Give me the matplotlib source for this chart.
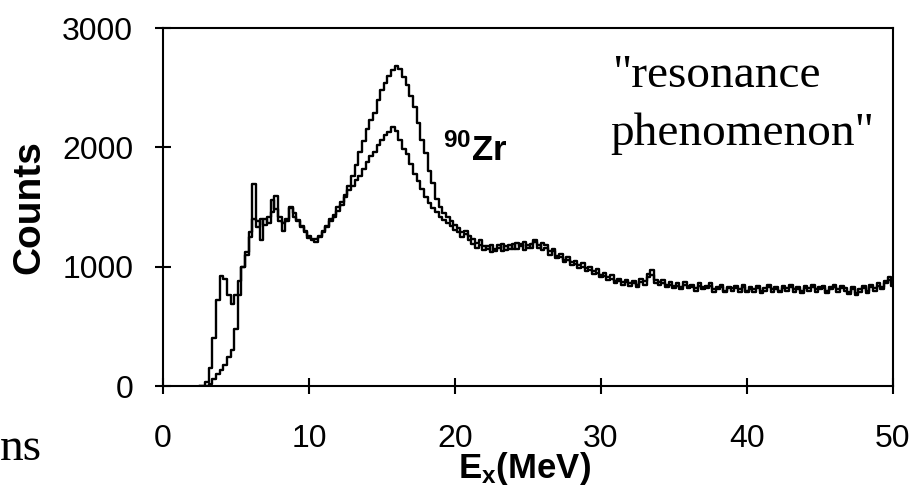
import numpy as np
import matplotlib
matplotlib.use("Agg")
import matplotlib.pyplot as plt

# excitation energy bins (MeV), 0.25 MeV wide, 2.5 .. 50
energy = np.arange(2.5, 50.001, 0.25)

# spectrum with the higher giant-resonance peak
counts_a = [
    0, 0,
    30, 150, 400, 720,
    920, 900, 760, 690,
    760, 880, 1000, 1120,
    1290, 1690, 1380, 1220,
    1400, 1370, 1460, 1590,
    1420, 1370, 1400, 1490,
    1450, 1380, 1330, 1300,
    1240, 1220, 1210, 1260,
    1290, 1340, 1400, 1430,
    1500, 1540, 1600, 1680,
    1760, 1850, 1960, 2050,
    2150, 2230, 2290, 2400,
    2480, 2540, 2600, 2650,
    2680, 2660, 2590, 2520,
    2430, 2340, 2200, 2060,
    1950, 1800, 1700, 1570,
    1500, 1450, 1420, 1380,
    1350,
    1320, 1290, 1300, 1260,
    1230, 1200, 1220, 1170,
    1150, 1180, 1130, 1160,
    1190, 1140, 1180, 1150,
    1200, 1170, 1210, 1160,
    1190, 1220, 1160, 1200,
    1180, 1130, 1150, 1090,
    1110, 1060, 1080, 1040,
    1050, 1010, 1030, 990,
    1000, 960, 980, 930,
    950, 910, 930, 880,
    900, 870, 890, 860,
    880, 850, 900, 880,
    940, 970, 890, 870,
    890, 850, 870, 840,
    860, 830, 870, 840,
    850, 820, 860, 830,
    840, 860, 810, 830,
    850, 800, 830, 820,
    840, 810, 850, 800,
    830, 810, 840, 800,
    820, 850, 810, 830,
    800, 840, 820, 850,
    810, 830, 800, 840,
    820, 850, 810, 830,
    840, 800, 830, 850,
    810, 840, 820, 790,
    830, 780, 810, 840,
    800, 850, 820, 860,
    830, 880, 910, 860,
]

# spectrum with the lower giant-resonance peak
counts_b = [
    0, 0,
    0, 20, 60, 100,
    130, 180, 240, 300,
    480, 760, 1000, 1100,
    1250, 1400, 1330, 1400,
    1350, 1420, 1560, 1480,
    1380, 1300, 1380, 1500,
    1420, 1390, 1340, 1290,
    1260, 1230, 1230, 1250,
    1300, 1330, 1380, 1420,
    1470, 1520, 1580, 1640,
    1680, 1730, 1760, 1820,
    1880, 1930, 1960, 2020,
    2060, 2100, 2130, 2170,
    2140, 2060, 1990, 1940,
    1860, 1780, 1720, 1650,
    1580, 1530, 1490, 1460,
    1420, 1390, 1370, 1340,
    1310,
    1290, 1250, 1270, 1220,
    1190, 1160, 1180, 1140,
    1170, 1120, 1150, 1180,
    1130, 1170, 1150, 1190,
    1150, 1190, 1140, 1180,
    1160, 1210, 1180, 1140,
    1160, 1100, 1130, 1070,
    1080, 1040, 1060, 1010,
    1020, 990, 1000, 960,
    970, 940, 950, 910,
    920, 890, 900, 860,
    880, 850, 870, 840,
    860, 830, 870, 850,
    910, 930, 860, 850,
    860, 830, 850, 820,
    840, 810, 850, 820,
    830, 800, 840, 810,
    820, 840, 790, 810,
    830, 790, 820, 800,
    820, 790, 830, 790,
    810, 790, 820, 780,
    800, 830, 790, 810,
    790, 820, 800, 830,
    790, 810, 780, 820,
    800, 830, 790, 810,
    820, 780, 810, 830,
    790, 820, 800, 770,
    810, 760, 790, 820,
    780, 830, 800, 840,
    810, 860, 890, 840,
]

x_ticks = [0, 10, 20, 30, 40, 50]
y_ticks = [0, 1000, 2000, 3000]

plt.rcParams["font.family"] = "Liberation Sans"
plt.rcParams["mathtext.fontset"] = "custom"
plt.rcParams["mathtext.rm"] = "Liberation Sans"
plt.rcParams["mathtext.bf"] = "Liberation Sans:bold"

fig = plt.figure(figsize=(9.14, 4.87), dpi=100)
ax = fig.add_axes([163 / 914, 101 / 487, 730 / 914, 358 / 487])

ax.plot(energy, counts_a, drawstyle="steps-mid", color="black", linewidth=1.7)
ax.plot(energy, counts_b, drawstyle="steps-mid", color="black", linewidth=1.7)

ax.set_xlim(0, 50)
ax.set_ylim(0, 3000)
ax.set_xticks(x_ticks)
ax.set_yticks(y_ticks)
ax.tick_params(direction="inout", length=11, width=1.5, labelsize=23)
ax.tick_params(axis="y", pad=16)
ax.tick_params(axis="x", pad=22)
for s in ax.spines.values():
    s.set_linewidth(1.5)

# axis titles placed by hand: the x title sits close under the tick labels
ax.text(-0.183, 0.5, "Counts", transform=ax.transAxes, rotation=90,
        fontsize=28, fontweight="bold", ha="center", va="center")
ax.text(0.495, -0.258, r"$\mathbf{E_x(MeV)}$", transform=ax.transAxes,
        fontsize=25, ha="center", va="baseline")
ax.text(19.2, 1890, r"$\mathbf{^{90}Zr}$", fontsize=25, ha="left", va="baseline")

ax.text(0.615, 0.835, "\"resonance", transform=ax.transAxes,
        family="Liberation Serif", fontsize=34, ha="left", va="baseline")
ax.text(0.612, 0.673, "phenomenon\"", transform=ax.transAxes,
        family="Liberation Serif", fontsize=34, ha="left", va="baseline")

fig.text(0.0, 1 - 460 / 487, "ns", family="Liberation Serif",
         fontsize=34, ha="left", va="baseline")

fig.savefig("out.png", dpi=100)
